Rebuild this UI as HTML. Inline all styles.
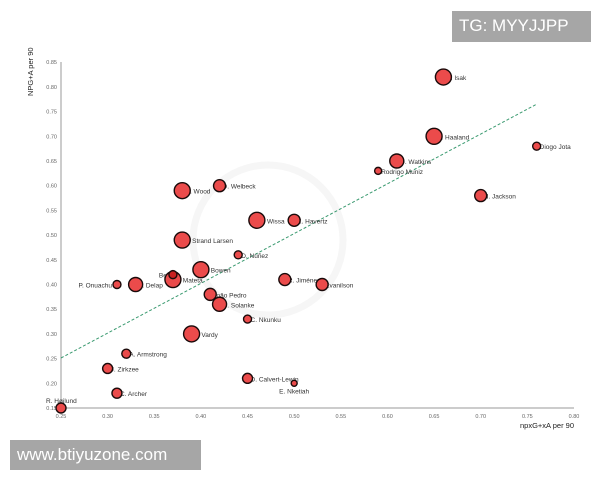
<!DOCTYPE html>
<html><head><meta charset="utf-8"><style>
html,body{margin:0;padding:0;background:#fff;width:600px;height:480px;overflow:hidden}
svg{position:absolute;left:0;top:0}
.box{position:absolute;background:#a6a6a6;color:#fff;font-family:"Liberation Sans",sans-serif;font-size:17px;line-height:30px;padding-left:7px;box-sizing:border-box}
</style></head><body>
<svg id="s" width="600" height="480" xmlns="http://www.w3.org/2000/svg" font-family="Liberation Sans, sans-serif">
<g fill="none" stroke="#f6f6f6" stroke-width="7"><circle cx="268" cy="240" r="75"/></g>
<line x1="61" y1="62" x2="61" y2="408" stroke="#999" stroke-width="1"/>
<line x1="61" y1="408" x2="574" y2="408" stroke="#999" stroke-width="1"/>
<g id="t" font-size="5.5" fill="#666"></g>
<line x1="61" y1="358" x2="537" y2="104" stroke="#3a9a70" stroke-width="1" stroke-dasharray="3,2"/>
<text x="0" y="0" font-size="7.5" fill="#222" transform="translate(33,96) rotate(-90)">NPG+A per 90</text>
<text x="574" y="428" font-size="7.5" fill="#222" text-anchor="end">npxG+xA per 90</text>
<g id="l" font-size="6.5" fill="#333"></g>
<g id="c"></g>
</svg>
<div class="box" style="left:452px;top:11px;width:139px;height:31px">TG: MYYJJPP</div>
<div class="box" style="left:10px;top:440px;width:191px;height:30px">www.btiyuzone.com</div>
<script>
const X=v=>61+(v-0.25)*932.7, Y=v=>408-(v-0.15)*494;
const ns="http://www.w3.org/2000/svg";
function el(p,n,a,txt){const e=document.createElementNS(ns,n);for(const k in a)e.setAttribute(k,a[k]);if(txt)e.textContent=txt;document.getElementById(p).appendChild(e);}
for(let i=0;i<=11;i++){const v=0.25+i*0.05;el('t','text',{x:X(v),y:418,'text-anchor':'middle'},v.toFixed(2));}
for(let i=0;i<=14;i++){const v=0.15+i*0.05;el('t','text',{x:57,y:Y(v)+2,'text-anchor':'end'},v.toFixed(2));}
const d=[[0.66,0.82,8,"A. Isak"],[0.65,0.70,8,"E. Haaland"],[0.76,0.68,4,"Diogo Jota"],[0.61,0.65,7,"O. Watkins"],[0.59,0.63,3.5,"Rodrigo Muniz"],[0.70,0.58,6,"N. Jackson"],[0.38,0.59,8,"C. Wood"],[0.42,0.60,6,"D. Welbeck"],[0.46,0.53,8,"Y. Wissa"],[0.50,0.53,6,"K. Havertz"],[0.38,0.49,8,"J. Strand Larsen"],[0.44,0.46,4,"D. Núñez"],[0.40,0.43,8,"J. Bowen"],[0.37,0.41,8,"J. Mateta"],[0.33,0.40,7,"L. Delap"],[0.49,0.41,6,"R. Jiménez"],[0.53,0.40,6,"Evanilson"],[0.41,0.38,6,"João Pedro"],[0.42,0.36,7,"D. Solanke"],[0.45,0.33,4,"C. Nkunku"],[0.39,0.30,8,"J. Vardy"],[0.32,0.26,4.5,"A. Armstrong"],[0.30,0.23,5,"J. Zirkzee"],[0.45,0.21,5,"D. Calvert-Lewin"],[0.31,0.18,5,"C. Archer"]];
d.forEach(p=>el('l','text',{x:X(p[0])+3,y:Y(p[1])+3},p[3]));
el('l','text',{x:X(0.31)-5,y:Y(0.40)+3,'text-anchor':'end'},"P. Onuachu");
el('l','text',{x:X(0.37)-14,y:Y(0.42)+3},"Beto");
el('l','text',{x:X(0.50),y:Y(0.20)+10,'text-anchor':'middle'},"E. Nketiah");
el('l','text',{x:X(0.25)-15,y:Y(0.15)-5},"R. Højlund");
const all=d.concat([[0.31,0.40,4],[0.50,0.20,3],[0.25,0.15,5]]);
all.forEach(p=>el('c','circle',{cx:X(p[0]),cy:Y(p[1]),r:p[2],fill:'#eb4b4b',stroke:'#1a0a0a','stroke-width':1.4}));
el('c','circle',{cx:X(0.37),cy:Y(0.42),r:4,fill:'#c82020',stroke:'#1a0a0a','stroke-width':1.4});
</script>
</body></html>
